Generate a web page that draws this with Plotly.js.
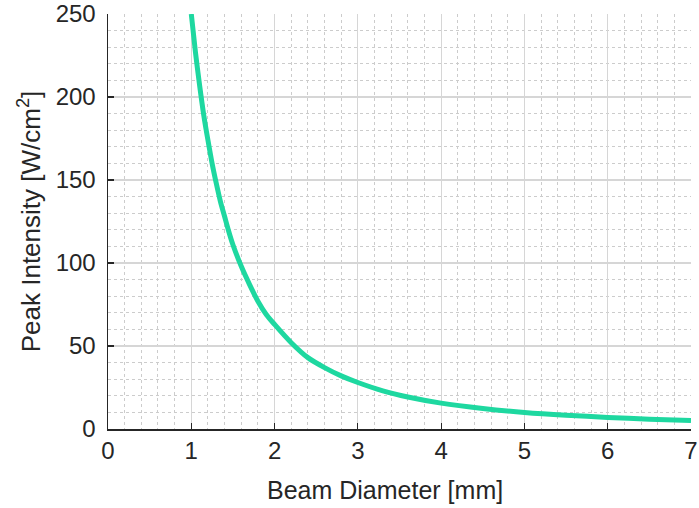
<!DOCTYPE html>
<html>
<head>
<meta charset="utf-8">
<script src="https://cdn.plot.ly/plotly-3.0.1.min.js"></script>
<style>html,body{margin:0;padding:0;background:#fff;}#chart{width:699px;height:508px;}</style>
</head>
<body>
<div id="chart"></div>
<script>
// Values
const beamDiameter = [1.0, 1.05, 1.1, 1.15, 1.2, 1.25, 1.3, 1.35, 1.4, 1.45, 1.5, 1.6, 1.7, 1.8, 1.9, 2.0, 2.2, 2.4, 2.6, 2.8, 3.0, 3.3, 3.6, 4.0, 4.5, 5.0, 5.5, 6.0, 6.5, 7.0];
const peakIntensity = [250, 227, 207, 189, 174, 160, 148, 137, 128, 119, 111, 98, 87, 77, 69, 63, 52, 43, 37, 32, 28, 23, 19.3, 15.6, 12.4, 10, 8.3, 7, 5.9, 5.1];
const xTicks = [0, 1, 2, 3, 4, 5, 6, 7];
const yTicks = [0, 50, 100, 150, 200, 250];
const xTitle = 'Beam Diameter [mm]';
const yTitle = 'Peak Intensity [W/cm<sup>2</sup>]';

const axisColor = '#262626';
const fam = 'Liberation Sans, Arial, sans-serif';

const trace = {
  x: beamDiameter, y: peakIntensity, type: 'scatter', mode: 'lines',
  line: {color: '#1ed8a0', width: 5, shape: 'spline', smoothing: 0.8},
  cliponaxis: true, hoverinfo: 'skip'
};

const layout = {
  width: 699, height: 508,
  margin: {l: 108, r: 8, t: 14, b: 79},
  paper_bgcolor: '#fff', plot_bgcolor: '#fff',
  showlegend: false,
  font: {family: fam, color: axisColor},
  xaxis: {
    range: [0, 7], tickvals: xTicks, ticktext: xTicks.map(String),
    showline: true, linecolor: axisColor, linewidth: 1.5, mirror: false,
    ticks: 'inside', ticklen: 6, tickcolor: axisColor, tickwidth: 1.2,
    showgrid: true, gridcolor: '#d6d6d6', gridwidth: 1.2,
    minor: {dtick: 0.2, showgrid: true, gridcolor: '#cccccc', griddash: 'dot', gridwidth: 1},
    zeroline: false, automargin: false,
    tickfont: {size: 24, family: fam, color: axisColor}
  },
  yaxis: {
    range: [0, 250], tickvals: yTicks, ticktext: yTicks.map(String),
    showline: true, linecolor: axisColor, linewidth: 1.5, mirror: false,
    ticks: 'inside', ticklen: 6, tickcolor: axisColor, tickwidth: 1.2,
    showgrid: true, gridcolor: '#d6d6d6', gridwidth: 1.2,
    minor: {dtick: 10, showgrid: true, gridcolor: '#cccccc', griddash: 'dot', gridwidth: 1},
    zeroline: false, automargin: false,
    tickfont: {size: 24, family: fam, color: axisColor},
    ticklabelstandoff: 6,
    title: {text: yTitle, font: {size: 26, family: fam, color: axisColor}, standoff: 7}
  },
  annotations: [{
    text: xTitle, xref: 'paper', yref: 'paper', x: 0.475, y: -0.147,
    xanchor: 'center', yanchor: 'middle', showarrow: false,
    font: {size: 25, family: fam, color: axisColor}
  }]
};

Plotly.newPlot('chart', [trace], layout, {staticPlot: true, displayModeBar: false});
</script>
</body>
</html>
